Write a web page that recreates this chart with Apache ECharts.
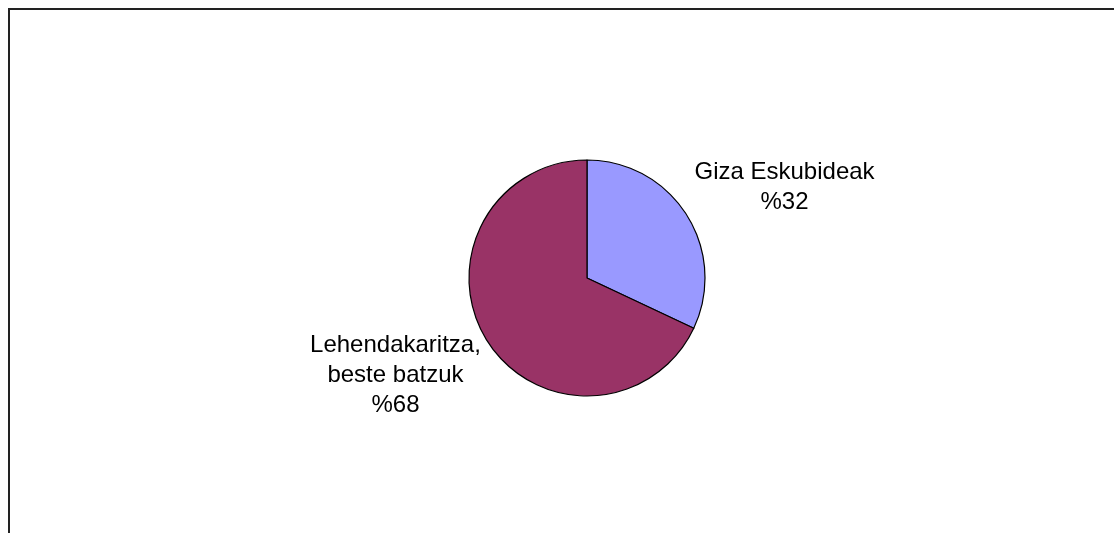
<!DOCTYPE html>
<html>
<head>
<meta charset="utf-8">
<script src="https://cdn.jsdelivr.net/npm/echarts@6/dist/echarts.min.js"></script>
<style>
  html, body { margin: 0; padding: 0; background: #fff; }
  #chart { width: 1114px; height: 533px; }
</style>
</head>
<body>
<div id="chart"></div>
<script>
// categories and values
const categories = ['Giza Eskubideak', 'Lehendakaritza,\nbeste batzuk']
const values = [32, 68]
const colors = ['#9999ff', '#993366']

const chart = echarts.init(document.getElementById('chart'))

chart.setOption({
  backgroundColor: '#fff',
  animation: false,
  graphic: [
    {
      // chart frame, only top and left edges visible in the crop
      type: 'rect',
      position: [9, 9],
      shape: { x: 0, y: 0, width: 1300, height: 700 },
      style: { fill: 'none', stroke: '#222', lineWidth: 2 },
      silent: true
    }
  ],
  series: [
    {
      type: 'pie',
      center: [587, 278],
      radius: 118,
      startAngle: 90,
      clockwise: true,
      avoidLabelOverlap: false,
      data: categories.map((name, i) => ({
        name,
        value: values[i],
        itemStyle: { color: colors[i] }
      })),
      itemStyle: { borderColor: '#000', borderWidth: 1.2 },
      label: {
        show: true,
        position: 'outside',
        color: '#000',
        fontFamily: 'Liberation Sans, Arial, sans-serif',
        fontSize: 24,
        lineHeight: 30,
        distanceToLabelLine: 51,
        formatter: p => p.name + '\n%' + Math.round(p.percent)
      },
      labelLine: { show: false, length: 52, length2: 0 },
      // center the text block; the 3-line label sits a little lower
      labelLayout: p => ({ align: 'center', dx: 3, dy: p.dataIndex === 1 ? 6 : 0 }),
      emphasis: { disabled: true }
    }
  ]
})
</script>
</body>
</html>
